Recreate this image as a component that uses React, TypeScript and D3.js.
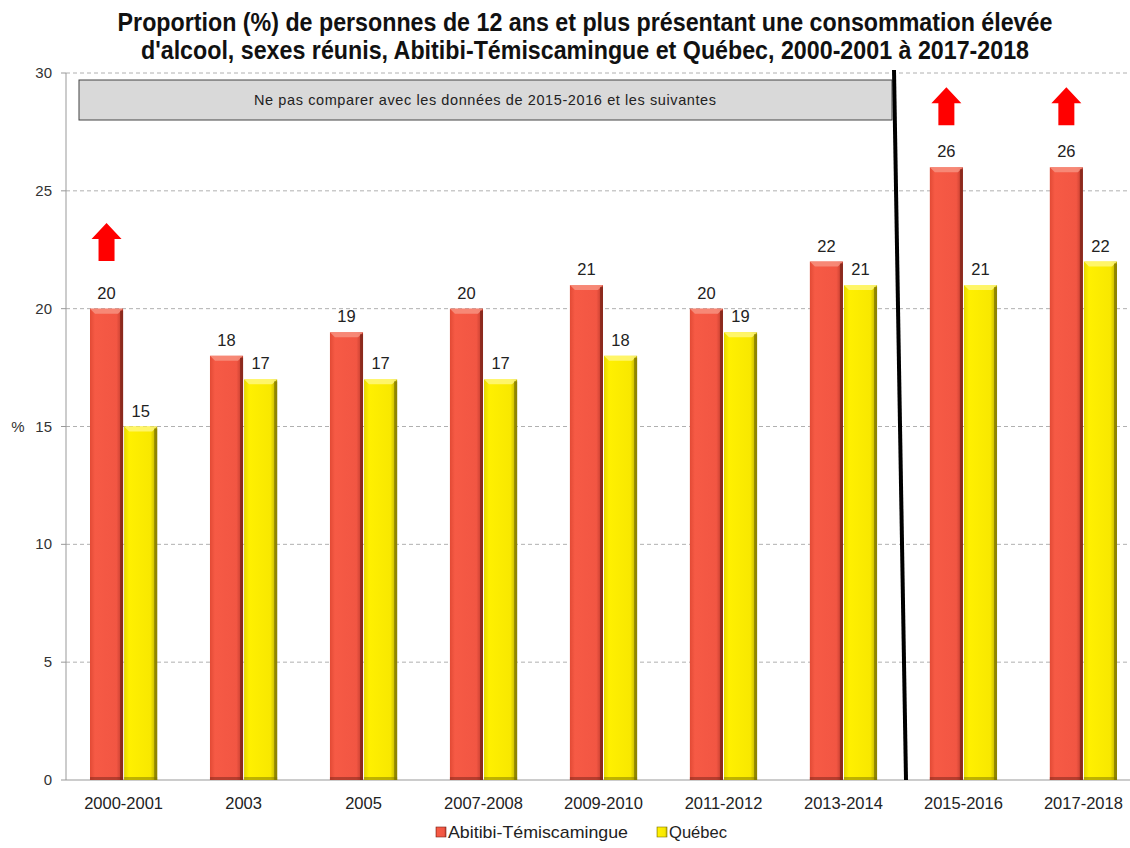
import React from "react";
import * as d3 from "d3";

const categories = ["2000-2001", "2003", "2005", "2007-2008", "2009-2010", "2011-2012", "2013-2014", "2015-2016", "2017-2018"];
const abitibi = [20, 18, 19, 20, 21, 20, 22, 26, 26];
const quebec = [15, 17, 17, 17, 18, 19, 21, 21, 22];
const arrowCats = ["2000-2001", "2015-2016", "2017-2018"];
const yTicks = [0, 5, 10, 15, 20, 25, 30];
const seriesNames = ["Abitibi-Témiscamingue", "Québec"];
const noteText = "Ne pas comparer avec les données de 2015-2016 et les suivantes";
const titleLines = [
  "Proportion (%) de personnes de 12 ans et plus présentant une consommation élevée",
  "d'alcool, sexes réunis, Abitibi-Témiscamingue et Québec, 2000-2001 à 2017-2018",
];

const W = 1130;
const H = 848;
const FONT = "'Liberation Sans Narrow', 'Arial Narrow', 'Liberation Sans', Arial, sans-serif";

export default function App() {
  const x0 = d3.scaleBand<string>().domain(categories).range([66, 1141]).paddingInner(0.44).paddingOuter(0.2);
  const x1 = d3.scaleBand<number>().domain([0, 1]).range([0, x0.bandwidth()]).paddingInner(0.03);
  const y = d3.scaleLinear().domain([0, 30]).range([780, 73]);

  const bar = (cat: string, i: number, s: number, v: number) => {
    const bx = (x0(cat) as number) + (x1(s) as number);
    const bw = x1.bandwidth();
    const by = y(v);
    const bh = y(0) - by;
    const fill = s === 0 ? "url(#gRed)" : "url(#gYel)";
    const top = s === 0 ? "#f7907f" : "#fff77a";
    const dark = s === 0 ? "#7a2418" : "#7f7500";
    const bev = 5;
    return (
      <g key={`${cat}-${s}`}>
        <rect x={bx} y={by} width={bw} height={bh} fill={fill} />
        <polygon points={`${bx},${by} ${bx + bw},${by} ${bx + bw - bev},${by + bev} ${bx + bev},${by + bev}`} fill={top} opacity={0.85} />
        <rect x={bx + bw - 3} y={by + 2} width={3} height={bh - 2} fill={dark} opacity={0.75} />
        <rect x={bx} y={y(0) - 3} width={bw} height={3} fill={dark} opacity={0.5} />
        <text x={bx + bw / 2} y={by - 10} textAnchor="middle" fontSize={16.5} fill="#222" fontFamily={FONT}>{v}</text>
      </g>
    );
  };

  const arrow = (cat: string) => {
    const cx = (x0(cat) as number) + x1.bandwidth() / 2 + (x1(0) as number);
    const val = abitibi[categories.indexOf(cat)];
    const tip = cat === "2000-2001" ? 223 : y(val) - 80;
    const hw = 15, sw = 8, hh = 16, len = 38;
    const pts = [
      [cx, tip], [cx + hw, tip + hh], [cx + sw, tip + hh], [cx + sw, tip + len],
      [cx - sw, tip + len], [cx - sw, tip + hh], [cx - hw, tip + hh],
    ].map((p) => p.join(",")).join(" ");
    return <polygon key={`a-${cat}`} points={pts} fill="#ff0000" />;
  };

  return (
    <svg width={W} height={H} style={{ position: "absolute", left: 0, top: 0, background: "#fff" }} fontFamily={FONT}>
      <defs>
        <linearGradient id="gRed" x1="0" x2="1" y1="0" y2="0">
          <stop offset="0" stopColor="#e24a35" />
          <stop offset="0.15" stopColor="#f65a45" />
          <stop offset="0.8" stopColor="#f25643" />
          <stop offset="1" stopColor="#b8382a" />
        </linearGradient>
        <linearGradient id="gYel" x1="0" x2="1" y1="0" y2="0">
          <stop offset="0" stopColor="#e6d600" />
          <stop offset="0.15" stopColor="#fff000" />
          <stop offset="0.8" stopColor="#f8e800" />
          <stop offset="1" stopColor="#b3a600" />
        </linearGradient>
      </defs>
      <rect width={W} height={H} fill="#fff" />
      {titleLines.map((t, i) => (
        <text key={i} x={0} y={0} transform={`translate(585,${31 + i * 28}) scale(0.93,1)`} textAnchor="middle" fontSize={25} fontWeight="bold" fill="#111">{t}</text>
      ))}
      {yTicks.map((t) => (
        <g key={t}>
          {t > 0 && <line x1={66} x2={W} y1={y(t)} y2={y(t)} stroke="#b0b0b0" strokeDasharray="4,3" strokeWidth={1} />}
          <line x1={61} x2={66} y1={y(t)} y2={y(t)} stroke="#999" />
          <text x={52} y={y(t) + 5} textAnchor="end" fontSize={15} fill="#333">{t}</text>
        </g>
      ))}
      <text x={18} y={432} textAnchor="middle" fontSize={15} fill="#333">%</text>
      <line x1={66} x2={66} y1={73} y2={780} stroke="#999" />
      <line x1={66} x2={W} y1={780} y2={780} stroke="#999" />
      <rect x={79} y={80} width={813} height={40} fill="#d9d9d9" stroke="#444" strokeWidth={1} />
      <text x={485} y={105} textAnchor="middle" fontSize={14.5} textLength={462} lengthAdjust="spacing" fill="#222">{noteText}</text>
      {categories.map((c, i) => [bar(c, i, 0, abitibi[i]), bar(c, i, 1, quebec[i])])}
      {arrowCats.map(arrow)}
      <line x1={894} x2={906} y1={70} y2={780} stroke="#000" strokeWidth={4} />
      {categories.map((c) => (
        <text key={c} x={(x0(c) as number) + x0.bandwidth() / 2} y={809} textAnchor="middle" fontSize={16.5} fill="#222">{c}</text>
      ))}
      <g>
        <rect x={436} y={827} width={10} height={10} fill="url(#gRed)" stroke="#7a2418" strokeWidth={0.6} />
        <text x={448} y={838} fontSize={17} textLength={180} lengthAdjust="spacingAndGlyphs" fill="#222">{seriesNames[0]}</text>
        <rect x={657} y={827} width={10} height={10} fill="url(#gYel)" stroke="#7f7500" strokeWidth={0.6} />
        <text x={669} y={838} fontSize={17} textLength={58} lengthAdjust="spacingAndGlyphs" fill="#222">{seriesNames[1]}</text>
      </g>
    </svg>
  );
}
